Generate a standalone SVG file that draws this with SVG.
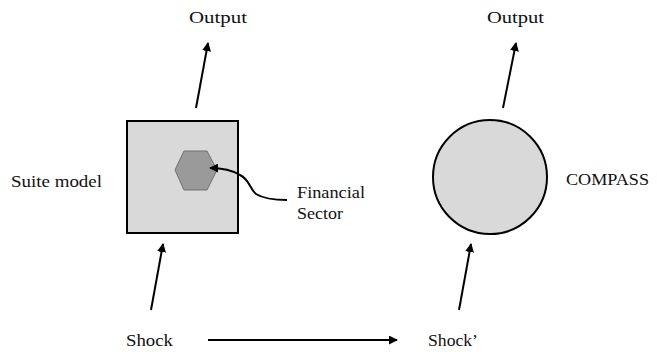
<svg xmlns="http://www.w3.org/2000/svg" width="657" height="352" viewBox="0 0 657 352">
  <style>
    .lbl { font-family: "Liberation Serif", "Times New Roman", serif; font-size: 17px; fill: #111; }
    .conn { stroke: #000; stroke-width: 2; fill: none; marker-end: url(#arrow); }
    .model { fill: #d9d9d9; stroke: #000; stroke-width: 2; }
  </style>
  <defs>
    <marker id="arrow" viewBox="0 0 10 10" refX="9" refY="5" markerWidth="4.5" markerHeight="4.5" orient="auto">
      <path d="M0,0 L10,5 L0,10 z" fill="#000"/>
    </marker>
  </defs>
  <rect width="657" height="352" fill="#fff"/>

  <g id="suite-model">
    <rect class="model" x="127" y="121" width="111" height="112"/>
    <text class="lbl" x="11" y="187" textLength="91" lengthAdjust="spacingAndGlyphs">Suite model</text>
  </g>

  <g id="financial-sector">
    <polygon points="175,170 184,151 207,151 217,170 207,190 184,190" fill="#9a9a9a" stroke="#6f6f6f" stroke-width="1"/>
    <text class="lbl" x="297" y="198" textLength="68" lengthAdjust="spacingAndGlyphs">Financial</text>
    <text class="lbl" x="297" y="219" textLength="46" lengthAdjust="spacingAndGlyphs">Sector</text>
  </g>

  <g id="compass">
    <circle class="model" cx="490" cy="177" r="57"/>
    <text class="lbl" x="566" y="185" textLength="83" lengthAdjust="spacingAndGlyphs">COMPASS</text>
  </g>

  <g id="output-left">
    <text class="lbl" x="189" y="23" textLength="58" lengthAdjust="spacingAndGlyphs">Output</text>
  </g>
  <g id="output-right">
    <text class="lbl" x="487" y="23" textLength="57" lengthAdjust="spacingAndGlyphs">Output</text>
  </g>
  <g id="shock">
    <text class="lbl" x="126" y="346" textLength="47" lengthAdjust="spacingAndGlyphs">Shock</text>
  </g>
  <g id="shock-prime">
    <text class="lbl" x="428" y="346" textLength="50" lengthAdjust="spacingAndGlyphs">Shock’</text>
  </g>

  <g id="connectors">
    <line class="conn" x1="151" y1="310" x2="163" y2="244"/>
    <line class="conn" x1="196" y1="108" x2="208" y2="43"/>
    <line class="conn" x1="459" y1="310" x2="471" y2="244"/>
    <line class="conn" x1="503" y1="108" x2="516" y2="43"/>
    <line class="conn" x1="208" y1="340" x2="397" y2="340"/>
    <path class="conn" d="M287,200 C274,200 264,199 256,194 C249,188 250,180 240,175 C232,170 222,168 210,168"/>
  </g>
</svg>
